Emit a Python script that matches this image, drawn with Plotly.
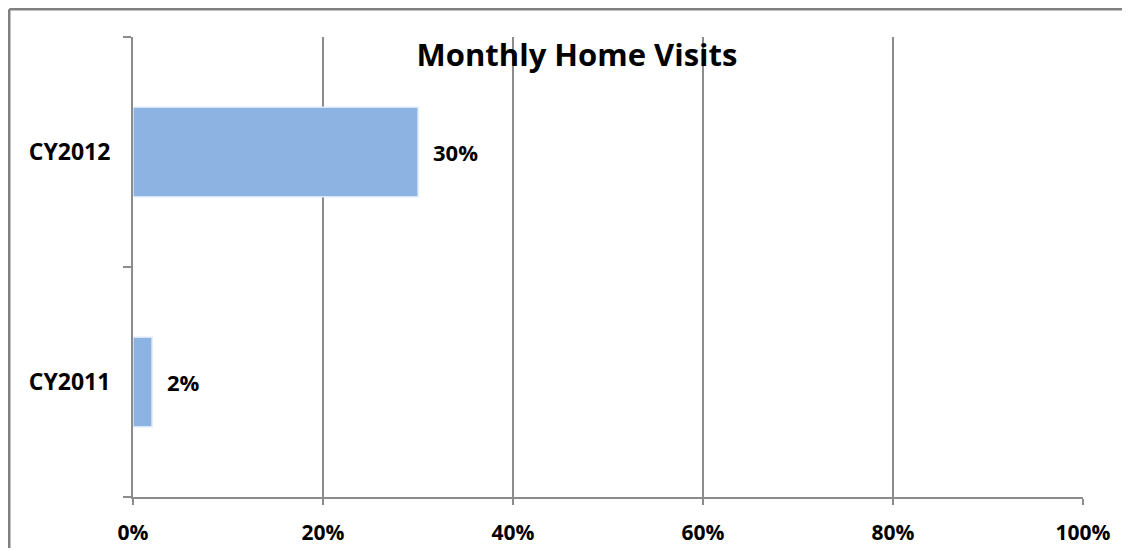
import plotly.graph_objects as go

categories = ["CY2011", "CY2012"]
values = [0.02, 0.30]
value_labels = ["2%", "30%"]
x_ticks = [0, 0.2, 0.4, 0.6, 0.8, 1.0]
x_tick_labels = ["0%", "20%", "40%", "60%", "80%", "100%"]
title_text = "Monthly Home Visits"

FONT = "Open Sans"
GRID = "#8c8c8c"

# page body adds an 8px offset; plot area in figure coordinates
L, T, R, B = 125, 29, 1075, 489
W, H = 1114, 540
PW, PH = R - L, B - T

fig = go.Figure()
fig.add_trace(go.Bar(
    x=values, y=categories, orientation="h",
    marker=dict(color="#8db3e3", line=dict(color="#dce8f6", width=1.5)),
    width=0.39, hoverinfo="skip",
))

for v, c, t in zip(values, categories, value_labels):
    fig.add_annotation(x=v, y=c, text=t, showarrow=False, xanchor="left",
                       xshift=13, font=dict(family=FONT, size=22, color="black", weight="bold"))

# outer chart border (top and left edges visible)
bx = (1.25 - L) / PW
by = 1 + (T - 1.25) / PH
fig.add_shape(type="line", xref="paper", yref="paper", x0=bx, x1=1.2, y0=by, y1=by,
              line=dict(color="#808080", width=2.5), layer="above")
fig.add_shape(type="line", xref="paper", yref="paper", x0=bx, x1=bx, y0=-0.3, y1=by,
              line=dict(color="#808080", width=2.5), layer="above")

fig.update_layout(
    width=W, height=H,
    margin=dict(l=L, r=W - R, t=T, b=H - B, autoexpand=False),
    paper_bgcolor="white", plot_bgcolor="white",
    showlegend=False,
    title=dict(text=title_text, x=569 / W, xanchor="center",
               y=1 - 47 / H, yanchor="middle",
               font=dict(family=FONT, size=31, color="black", weight="bold")),
    xaxis=dict(range=[0, 1.0], tickvals=x_ticks, ticktext=x_tick_labels,
               showgrid=True, gridcolor=GRID, gridwidth=1.5,
               showline=True, linecolor=GRID, linewidth=2,
               ticks="outside", ticklen=6, tickcolor=GRID, tickwidth=2,
               tickfont=dict(family=FONT, size=21, color="black", weight="bold"),
               ticklabelstandoff=10, zeroline=False, fixedrange=True, automargin=False),
    yaxis=dict(categoryorder="array", categoryarray=categories,
               showline=True, linecolor=GRID, linewidth=2,
               ticks="outside", tickson="boundaries", ticklen=8, tickcolor=GRID, tickwidth=2,
               tickfont=dict(family=FONT, size=23, color="black", weight="bold"),
               ticklabelstandoff=16, showgrid=False, zeroline=False, fixedrange=True,
               automargin=False),
)

fig.write_html("out.html")
